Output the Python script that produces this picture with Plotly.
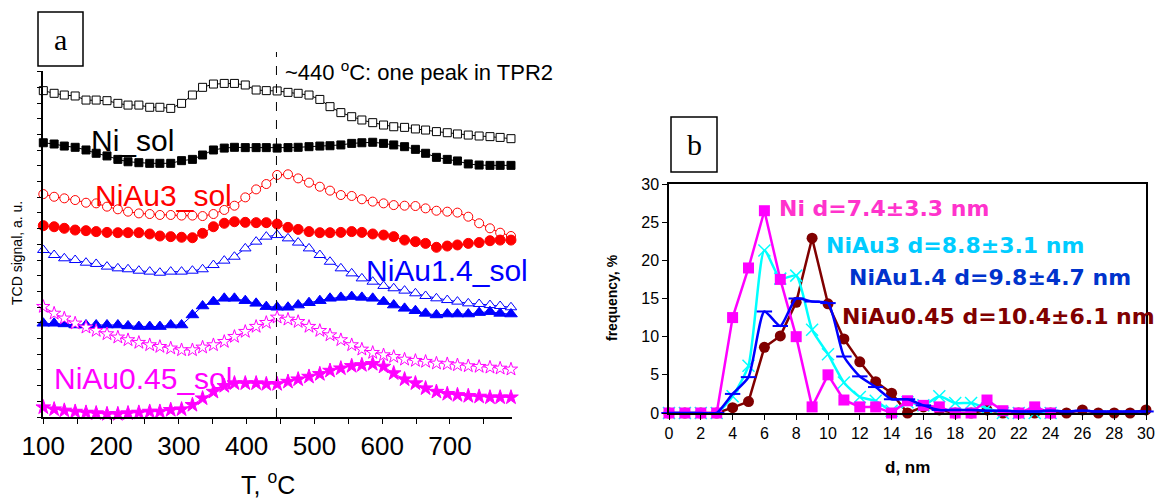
import plotly.graph_objects as go

# ---------------- Panel a data (TPR, arbitrary units) ----------------
T = [100, 116, 131, 147, 163, 178, 194, 210, 225, 241, 257, 272, 288, 304, 320,
     335, 351, 367, 382, 398, 414, 429, 445, 461, 476, 492, 508, 523, 539, 555,
     570, 586, 602, 617, 633, 649, 664, 680, 696, 711, 727, 743, 759, 774, 790]

ni_open = [20.79, 20.62, 20.51, 20.45, 20.19, 20.19, 20.15, 19.98, 19.87, 19.87, 19.73, 19.73,
           19.66, 19.98, 20.51, 21.00, 21.21, 21.25, 21.25, 21.15, 20.83, 20.79, 20.77,
           20.68, 20.62, 20.51, 20.23, 19.77, 19.39, 19.13, 18.92, 18.75, 18.60, 18.49,
           18.45, 18.35, 18.28, 18.18, 18.11, 18.03, 17.96, 17.90, 17.86, 17.81, 17.73]
ni_fill = [17.47, 17.39, 17.26, 17.18, 17.01, 16.80, 16.63, 16.41, 16.26, 16.20, 16.16, 16.16,
           16.16, 16.33, 16.41, 16.69, 17.01, 17.13, 17.18, 17.16, 17.16, 17.16, 17.13,
           17.16, 17.18, 17.22, 17.26, 17.28, 17.33, 17.43, 17.47, 17.50, 17.43, 17.33,
           17.22, 17.05, 16.80, 16.54, 16.41, 16.31, 16.12, 16.05, 16.03, 16.03, 16.03]
au3_open = [14.20, 14.03, 13.93, 13.82, 13.65, 13.61, 13.40, 13.23, 13.08, 12.97, 12.93, 12.87,
            12.87, 12.83, 12.83, 12.80, 12.93, 13.19, 13.46, 13.99, 14.50, 14.84, 15.42,
            15.46, 15.20, 14.93, 14.67, 14.42, 14.14, 14.08, 13.87, 13.72, 13.61, 13.50,
            13.46, 13.44, 13.29, 13.14, 13.08, 13.02, 12.76, 12.34, 12.02, 11.74, 11.53]
au3_fill = [12.19, 12.12, 12.02, 11.91, 11.87, 11.81, 11.76, 11.74, 11.74, 11.74, 11.66, 11.53,
            11.49, 11.45, 11.42, 11.70, 12.12, 12.34, 12.44, 12.40, 12.38, 12.38, 12.29,
            12.08, 11.95, 11.81, 11.74, 11.74, 11.76, 11.81, 11.76, 11.66, 11.59, 11.49,
            11.27, 11.17, 11.06, 10.81, 10.89, 10.96, 11.06, 11.11, 11.23, 11.27, 11.27]
au14_open = [10.64, 10.32, 10.11, 10.00, 9.83, 9.75, 9.58, 9.47, 9.41, 9.32, 9.26, 9.19,
             9.26, 9.26, 9.32, 9.41, 9.68, 9.96, 10.21, 10.74, 11.17, 11.49, 11.59,
             11.38, 11.11, 10.74, 10.32, 9.89, 9.47, 9.15, 8.83, 8.62, 8.35, 8.20,
             8.05, 7.88, 7.71, 7.56, 7.45, 7.35, 7.24, 7.20, 7.13, 7.07, 6.99]
au14_fill = [5.97, 5.97, 5.93, 5.86, 5.86, 5.86, 5.86, 5.86, 5.80, 5.76, 5.76, 5.76,
             5.86, 5.86, 6.50, 7.07, 7.35, 7.56, 7.56, 7.41, 7.24, 7.03, 6.99,
             6.99, 7.13, 7.28, 7.41, 7.56, 7.62, 7.67, 7.62, 7.56, 7.35, 7.13,
             6.92, 6.77, 6.60, 6.50, 6.56, 6.56, 6.56, 6.65, 6.71, 6.60, 6.56]
au045_open = [7.03, 6.60, 6.29, 5.97, 5.71, 5.50, 5.29, 5.08, 4.91, 4.74, 4.59, 4.48,
              4.38, 4.27, 4.27, 4.44, 4.59, 4.80, 5.12, 5.44, 5.76, 6.01, 6.35,
              6.22, 6.07, 5.76, 5.50, 5.22, 4.91, 4.59, 4.31, 4.10, 3.95, 3.84,
              3.67, 3.59, 3.53, 3.42, 3.38, 3.31, 3.25, 3.21, 3.16, 3.10, 3.04]
au045_fill = [0.62, 0.49, 0.41, 0.34, 0.28, 0.24, 0.19, 0.19, 0.24, 0.28, 0.34, 0.34,
              0.45, 0.49, 0.77, 1.19, 1.61, 1.98, 2.15, 2.15, 2.15, 2.10, 2.10,
              2.25, 2.40, 2.57, 2.74, 2.95, 3.10, 3.25, 3.31, 3.38, 3.21, 2.79,
              2.40, 2.15, 1.83, 1.61, 1.47, 1.40, 1.34, 1.30, 1.25, 1.25, 1.25]

T_mark = 444
a_xticks = [100, 200, 300, 400, 500, 600, 700]

# ---------------- Panel b data (size distributions) ----------------
d = list(range(0, 31))
freq_ni = [0, 0, 0, 0, 12.5, 19, 26.5, 17.5, 10, 0.8, 5, 1.7, 0.8, 0.8, 0, 1.6, 1.0, 0.8,
           0, 0, 1.7, 0.3, 0, 0.8, 0]
freq_au3 = [0, 0, 0, 0, 2.2, 6.2, 21.3, 17.6, 18.0, 10.9, 7.7, 4.0, 2.1, 1.6, 0.3, 1.4,
            1.0, 2.2, 1.3, 1.3, 0.6, 0, 0, 0, 0]
freq_au14 = [0, 0, 0, 0, 2.5, 4.7, 13.3, 11.4, 15.0, 14.6, 14.4, 7.4, 4.8, 3.4, 1.8, 1.8,
             1.0, 0.4, 0.4, 0.4, 0.3, 0.3, 0.2, 0.2, 0.3, 0.2, 0.3, 0.2, 0.2, 0.2, 0.2]
freq_au045 = [0, 0, 0, 0, 0.7, 1.5, 8.6, 10.1, 14.5, 22.9, 14.3, 9.7, 6.7, 4.1, 2.6, 0,
              0.8, 0.4, 0, 0, 0.4, 0, 0, 0, 0, 0, 0.4, 0, 0, 0, 0.4]

b_labels = ["Ni d=7.4\u00b13.3 nm", "NiAu3 d=8.8\u00b13.1 nm",
            "NiAu1.4 d=9.8\u00b14.7 nm", "NiAu0.45 d=10.4\u00b16.1 nm"]

W, H = 1157, 502
def px(x):
    return x / W
def py(y):
    return 1 - y / H

fig = go.Figure()

# ---- panel a traces ----
def tpr(y, symbol, color, fill, size):
    fig.add_trace(go.Scatter(
        x=T, y=y, mode="lines+markers", xaxis="x", yaxis="y",
        line=dict(color=color, width=1),
        marker=dict(symbol=symbol, size=size, color=fill,
                    line=dict(color=color, width=1)),
        cliponaxis=False, showlegend=False))

tpr(ni_open, "square", "black", "white", 8)
tpr(ni_fill, "square", "black", "black", 8)
tpr(au3_open, "circle", "#ff0000", "white", 9)
tpr(au3_fill, "circle", "#ff0000", "#ff0000", 10)
tpr(au14_open, "triangle-up", "#0000ff", "white", 10)
tpr(au14_fill, "triangle-up", "#0000ff", "#0000ff", 11)
tpr(au045_open, "star", "#ff00ff", "white", 10)
tpr(au045_fill, "star", "#ff00ff", "#ff00ff", 11)

# ---- panel b traces ----
fig.add_trace(go.Scatter(
    x=d[:len(freq_au045)], y=freq_au045, mode="lines+markers", xaxis="x2", yaxis="y2",
    line=dict(color="#800000", width=2.5),
    marker=dict(symbol="circle", size=11, color="#800000"),
    cliponaxis=False, showlegend=False))
fig.add_trace(go.Scatter(
    x=d[:len(freq_au3)], y=freq_au3, mode="lines+markers", xaxis="x2", yaxis="y2",
    line=dict(color="#00ffff", width=2.5, shape="spline", smoothing=0.6),
    marker=dict(symbol="x-thin", size=12, color="#00ffff",
                line=dict(color="#00ffff", width=1.5)),
    cliponaxis=False, showlegend=False))
fig.add_trace(go.Scatter(
    x=d[:len(freq_ni)], y=freq_ni, mode="lines+markers", xaxis="x2", yaxis="y2",
    line=dict(color="#ff00ff", width=2.5),
    marker=dict(symbol="square", size=11, color="#ff00ff"),
    cliponaxis=False, showlegend=False))
fig.add_trace(go.Scatter(
    x=d[:len(freq_au14)], y=freq_au14, mode="lines+markers", xaxis="x2", yaxis="y2",
    line=dict(color="#0000ff", width=2.5, shape="spline", smoothing=0.6),
    marker=dict(symbol="line-ew", size=11, color="#0000ff",
                line=dict(color="#0000ff", width=2)),
    cliponaxis=False, showlegend=False))

arial = "Arial, Liberation Sans, sans-serif"
bold_font = "DejaVu Sans, Verdana, sans-serif"

fig.update_layout(
    template="none",
    width=W, height=H, margin=dict(l=0, r=0, t=0, b=0, pad=0, autoexpand=False),
    paper_bgcolor="white", plot_bgcolor="white",
    font=dict(family=arial, color="black"),
    xaxis=dict(domain=[px(43.3), px(512)], range=[100, 791.5], anchor="y", automargin=False,
               tickvals=a_xticks, ticks="outside", ticklen=5, tickcolor="black",
               minor=dict(dtick=50, tick0=100, ticks="outside", ticklen=5, tickcolor="black",
                          showgrid=False),
               showline=True, linecolor="black", linewidth=1.5, showgrid=False,
               zeroline=False, tickfont=dict(size=26, family=arial, color="black")),
    yaxis=dict(domain=[py(417), py(70.7)], range=[0, 22.06], anchor="x", automargin=False,
               dtick=1, tick0=0, ticks="outside", ticklen=5, tickcolor="black",
               showticklabels=False, showline=True, linecolor="black", linewidth=1.5,
               showgrid=False, zeroline=False),
    xaxis2=dict(domain=[px(669), px(1146)], range=[0, 30], anchor="y2", automargin=False,
                dtick=2, tick0=0, ticks="outside", ticklen=5, tickcolor="black",
                showline=True, mirror=True, linecolor="black", linewidth=1.5,
                showgrid=False, zeroline=False,
                tickfont=dict(size=16, family=arial, color="black")),
    yaxis2=dict(domain=[py(413), py(184)], range=[0, 30], anchor="x2", automargin=False,
                dtick=5, tick0=0, ticks="outside", ticklen=5, tickcolor="black",
                showline=True, mirror=True, linecolor="black", linewidth=1.5,
                showgrid=False, zeroline=False,
                tickfont=dict(size=16, family=arial, color="black")),
)

shapes = [
    dict(type="line", xref="x", yref="paper", x0=T_mark, x1=T_mark, y0=py(417), y1=py(52),
         line=dict(color="black", width=1, dash="dash")),
    dict(type="rect", xref="paper", yref="paper", x0=px(38), x1=px(83), y0=py(66), y1=py(12),
         line=dict(color="black", width=1.5)),
    dict(type="rect", xref="paper", yref="paper", x0=px(671), x1=px(717), y0=py(172), y1=py(117),
         line=dict(color="black", width=1.5)),
]
fig.update_layout(shapes=shapes)

def ann(text, x, y, size, color="black", family=arial, xanchor="left", angle=0, bold=False):
    if bold:
        text = "<b>" + text + "</b>"
    return dict(text=text, x=px(x), y=py(y), xref="paper", yref="paper",
                xanchor=xanchor, yanchor="middle", showarrow=False, textangle=angle,
                font=dict(size=size, color=color, family=family))

serif = "Times New Roman, Liberation Serif, serif"
annotations = [
    ann("a", 60.5, 39, 30, family=serif, xanchor="center"),
    ann("b", 694, 144.5, 30, family=serif, xanchor="center"),
    ann("~440 <sup>o</sup>C: one peak in TPR2", 283, 71, 22),
    ann("Ni_sol", 89, 140, 30),
    ann("NiAu3_sol", 93, 195, 30, color="#ff0000"),
    ann("NiAu1.4_sol", 364, 270, 30, color="#0000ff"),
    ann("NiAu0.45_sol", 52, 378, 30, color="#ff00ff"),
    ann("T, <sup>o</sup>C", 268, 483, 25, xanchor="center"),
    ann("TCD signal, a. u.", 17, 253, 14, xanchor="center", angle=-90),
    ann(b_labels[0], 777, 208, 22, color="#ff33cc", family=bold_font, bold=True),
    ann(b_labels[1], 824, 245, 22, color="#00ccff", family=bold_font, bold=True),
    ann(b_labels[2], 847, 277, 22, color="#0033cc", family=bold_font, bold=True),
    ann(b_labels[3], 840, 316, 22, color="#800000", family=bold_font, bold=True),
    ann("d, nm", 907, 467, 17, xanchor="center", bold=True),
    ann("frequency, %", 612, 298, 14, xanchor="center", angle=-90, bold=True),
]
fig.update_layout(annotations=annotations)

fig.write_html("out.html")
